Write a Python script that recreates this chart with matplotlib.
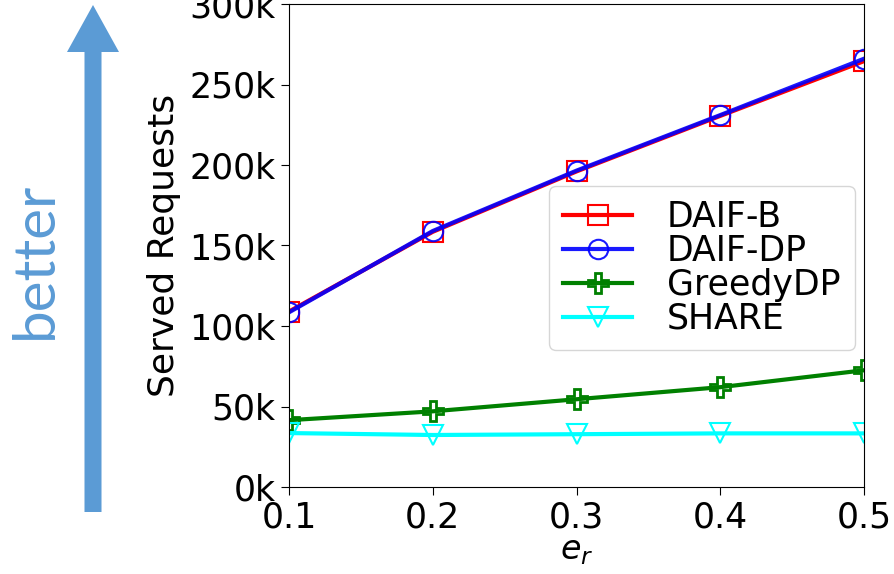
import numpy as np
from matplotlib import pyplot as plt
from matplotlib.ticker import FuncFormatter

# values
er = [0.1, 0.2, 0.3, 0.4, 0.5]
daif_b = [109e3, 158.5e3, 196e3, 230.5e3, 264.5e3]
daif_dp = [108.5e3, 159e3, 196.5e3, 231e3, 266e3]
greedy_dp = [41.5e3, 47e3, 54.5e3, 62e3, 72.5e3]
share = [33.5e3, 32.3e3, 32.8e3, 33.3e3, 33.3e3]

xticks = [0.1, 0.2, 0.3, 0.4, 0.5]
yticks = [0, 50e3, 100e3, 150e3, 200e3, 250e3, 300e3]

W, H = 894, 574
fig = plt.figure(figsize=(W/100, H/100), dpi=100)
ax = fig.add_axes([289/W, 1-487/H, (864-289)/W, (487-4)/H])

ms = 14
ax.plot(er, daif_b, color='red', lw=3, marker='s', ms=ms, mfc='none', mew=1.5, label='DAIF-B')
ax.plot(er, daif_dp, color='blue', lw=3, marker='o', ms=ms, mfc='none', mew=1.5, label='DAIF-DP', alpha=0.9)
ax.plot(er, greedy_dp, color='green', lw=3, marker='P', ms=ms, mfc='none', mew=2, label='GreedyDP')
ax.plot(er, share, color='cyan', lw=3, marker='v', ms=ms, mfc='none', mew=1.5, label='SHARE')

ax.set_xlim(0.1, 0.5)
ax.set_ylim(0, 300e3)
ax.set_xticks(xticks)
ax.set_yticks(yticks)
ax.yaxis.set_major_formatter(FuncFormatter(lambda v, p: '%dk' % int(v/1000)))
ax.tick_params(labelsize=25, length=6)
ax.set_xlabel('$e_r$', fontsize=24, labelpad=0)
ax.set_ylabel('Served Requests', fontsize=26, labelpad=6)

ax.legend(loc='upper left', bbox_to_anchor=((549-289)/(864-289), (487-186)/(487-4)),
          borderaxespad=0, fontsize=25, handlelength=2.0, borderpad=0.4, labelspacing=0.0,
          handletextpad=1.0, frameon=True)

# "better" arrow on the left
fig.patches.append(plt.matplotlib.patches.FancyArrow(
    93/W, 1-512/H, 0, (512-52)/H, width=17/W, head_width=52/W, head_length=47/H,
    length_includes_head=False, transform=fig.transFigure, color='#5B9BD5', lw=0))
fig.text(35/W, 1-260/H, 'better', rotation=90, color='#5B9BD5', fontsize=42,
         ha='center', va='center', family='Lato')

fig.savefig('out.png', dpi=100)
